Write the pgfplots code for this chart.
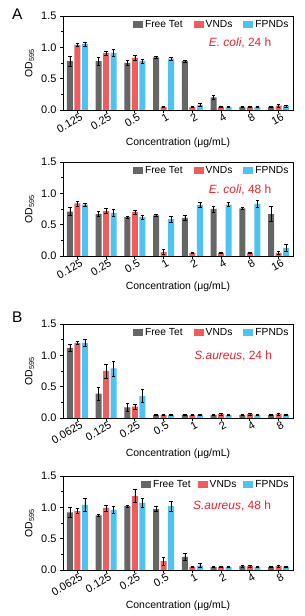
\documentclass[border=0pt]{standalone}
\usepackage{fontspec}
\setmainfont{Liberation Sans}
\usepackage{pgfplots}
\pgfplotsset{compat=1.18}
\definecolor{cgrey}{HTML}{666666}
\definecolor{cred}{HTML}{EF5C5C}
\definecolor{cblue}{HTML}{4CC3F1}
\definecolor{ctext}{HTML}{E8222B}
\pgfplotsset{
  panel/.style={
    scale only axis, width=230bp, height=94bp, anchor=south west,
    ybar=1.5bp, bar width=6bp,
    xmin=-0.5, xmax=7.5, ymin=0, ymax=1.5,
    xtick={0,...,7}, ytick={0,0.5,1,1.5}, minor y tick num=1,
    xtick pos=bottom, ytick pos=left, tick align=outside,
    major tick length=3bp, minor tick length=2bp,
    axis line style={line width=0.8pt}, every tick/.style={black, line width=0.8pt},
    /pgf/number format/assume math mode=true,
    yticklabel style={/pgf/number format/.cd, fixed, fixed zerofill, precision=1},
    ticklabel style={font=\fontsize{11}{12}\selectfont},
    xticklabel style={rotate=30, anchor=north east, inner sep=1bp, xshift=3bp},
    label style={font=\fontsize{10.5}{12}\selectfont},
    ylabel={OD\textsubscript{595}},
    ylabel style={at={(axis description cs:-0.145,0.5)}, anchor=center},
    xlabel={Concentration (μg/mL)},
    legend columns=3,
    legend style={draw=none, fill=none, at={(0.99,0.975)}, anchor=north east,
      font=\fontsize{10.3}{11}\selectfont, inner sep=0pt,
      /tikz/every even column/.append style={column sep=9bp}},
    legend image code/.code={\fill[##1] (0bp,-3.5bp) rectangle (10bp,3.5bp);},
    error bars/y dir=both, error bars/y explicit,
    error bars/error bar style={black, line width=0.6pt},
    error bars/error mark options={rotate=90, mark size=1.8bp, black, line width=0.6pt},
  },
  sgrey/.style={fill=cgrey, draw=none},
  sred/.style={fill=cred, draw=none},
  sblue/.style={fill=cblue, draw=none},
}
\begin{document}
\begin{tikzpicture}
\useasboundingbox (0,0) rectangle (305bp,616bp);
\node[anchor=north west, inner sep=0pt, font=\fontsize{15.5}{16}\selectfont] at (12bp,607bp) {A};
\node[anchor=north west, inner sep=0pt, font=\fontsize{15.5}{16}\selectfont] at (12bp,304bp) {B};
% Panel 1
\begin{axis}[panel, at={(63bp,506bp)},
  xticklabels={0.125,0.25,0.5,1,2,4,8,16},
  xlabel style={at={(axis description cs:0.5,-0.35)}, anchor=center}]
\addplot[sgrey] coordinates {(0,0.78)+-(0,0.08) (1,0.78)+-(0,0.06) (2,0.75)+-(0,0.04) (3,0.84)+-(0,0.02) (4,0.78)+-(0,0.02) (5,0.20)+-(0,0.03) (6,0.05)+-(0,0.005) (7,0.05)+-(0,0.01)};
\addplot[sred] coordinates {(0,1.04)+-(0,0.02) (1,0.91)+-(0,0.03) (2,0.83)+-(0,0.04) (3,0.05)+-(0,0.01) (4,0.05)+-(0,0.01) (5,0.05)+-(0,0.01) (6,0.05)+-(0,0.01) (7,0.07)+-(0,0.02)};
\addplot[sblue] coordinates {(0,1.05)+-(0,0.03) (1,0.91)+-(0,0.06) (2,0.78)+-(0,0.03) (3,0.82)+-(0,0.02) (4,0.08)+-(0,0.02) (5,0.05)+-(0,0.01) (6,0.05)+-(0,0.01) (7,0.06)+-(0,0.01)};
\legend{Free Tet, VNDs, FPNDs}
\node[text=ctext, font=\fontsize{12}{13}\selectfont] at (axis description cs:0.77,0.71) {\textit{E. coli}, 24 h};
\end{axis}
% Panel 2
\begin{axis}[panel, at={(63bp,360bp)},
  xticklabels={0.125,0.25,0.5,1,2,4,8,16},
  xlabel style={at={(axis description cs:0.5,-0.33)}, anchor=center}]
\addplot[sgrey] coordinates {(0,0.71)+-(0,0.06) (1,0.67)+-(0,0.04) (2,0.62)+-(0,0.02) (3,0.65)+-(0,0.01) (4,0.61)+-(0,0.04) (5,0.75)+-(0,0.05) (6,0.76)+-(0,0.02) (7,0.67)+-(0,0.12)};
\addplot[sred] coordinates {(0,0.84)+-(0,0.04) (1,0.72)+-(0,0.04) (2,0.70)+-(0,0.03) (3,0.06)+-(0,0.04) (4,0.05)+-(0,0.01) (5,0.05)+-(0,0.01) (6,0.05)+-(0,0.01) (7,0.05)+-(0,0.02)};
\addplot[sblue] coordinates {(0,0.82)+-(0,0.02) (1,0.69)+-(0,0.06) (2,0.62)+-(0,0.03) (3,0.59)+-(0,0.05) (4,0.81)+-(0,0.04) (5,0.82)+-(0,0.03) (6,0.83)+-(0,0.06) (7,0.13)+-(0,0.05)};
\legend{Free Tet, VNDs, FPNDs}
\node[text=ctext, font=\fontsize{12}{13}\selectfont] at (axis description cs:0.77,0.705) {\textit{E. coli}, 48 h};
\end{axis}
% Panel 3
\begin{axis}[panel, at={(63bp,198bp)},
  xticklabels={0.0625,0.125,0.25,0.5,1,2,4,8},
  xlabel style={at={(axis description cs:0.5,-0.38)}, anchor=center}]
\addplot[sgrey] coordinates {(0,1.12)+-(0,0.05) (1,0.39)+-(0,0.10) (2,0.17)+-(0,0.06) (3,0.05)+-(0,0.01) (4,0.05)+-(0,0.01) (5,0.05)+-(0,0.005) (6,0.05)+-(0,0.01) (7,0.05)+-(0,0.005)};
\addplot[sred] coordinates {(0,1.20)+-(0,0.03) (1,0.75)+-(0,0.11) (2,0.18)+-(0,0.04) (3,0.05)+-(0,0.005) (4,0.05)+-(0,0.01) (5,0.06)+-(0,0.02) (6,0.06)+-(0,0.02) (7,0.06)+-(0,0.02)};
\addplot[sblue] coordinates {(0,1.20)+-(0,0.06) (1,0.79)+-(0,0.12) (2,0.35)+-(0,0.10) (3,0.05)+-(0,0.01) (4,0.05)+-(0,0.01) (5,0.05)+-(0,0.01) (6,0.05)+-(0,0.01) (7,0.05)+-(0,0.01)};
\legend{Free Tet, VNDs, FPNDs}
\node[text=ctext, font=\fontsize{12}{13}\selectfont] at (axis description cs:0.74,0.66) {\textit{S.aureus}, 24 h};
\end{axis}
% Panel 4
\begin{axis}[panel, at={(63bp,46bp)},
  xticklabels={0.0625,0.125,0.25,0.5,1,2,4,8},
  legend style={/tikz/every even column/.append style={column sep=5bp}},
  xlabel style={at={(axis description cs:0.5,-0.38)}, anchor=center}]
\addplot[sgrey] coordinates {(0,0.92)+-(0,0.08) (1,0.87)+-(0,0.02) (2,1.02)+-(0,0.02) (3,0.97)+-(0,0.04) (4,0.21)+-(0,0.05) (5,0.05)+-(0,0.005) (6,0.06)+-(0,0.01) (7,0.05)+-(0,0.005)};
\addplot[sred] coordinates {(0,0.94)+-(0,0.04) (1,0.99)+-(0,0.05) (2,1.18)+-(0,0.10) (3,0.14)+-(0,0.06) (4,0.05)+-(0,0.005) (5,0.05)+-(0,0.01) (6,0.06)+-(0,0.02) (7,0.06)+-(0,0.02)};
\addplot[sblue] coordinates {(0,1.04)+-(0,0.10) (1,0.96)+-(0,0.05) (2,1.07)+-(0,0.07) (3,1.02)+-(0,0.08) (4,0.07)+-(0,0.03) (5,0.05)+-(0,0.005) (6,0.05)+-(0,0.005) (7,0.05)+-(0,0.005)};
\legend{Free Tet, VNDs, FPNDs}
\node[text=ctext, font=\fontsize{12}{13}\selectfont] at (axis description cs:0.735,0.68) {\textit{S.aureus}, 48 h};
\end{axis}
\end{tikzpicture}
\end{document}
